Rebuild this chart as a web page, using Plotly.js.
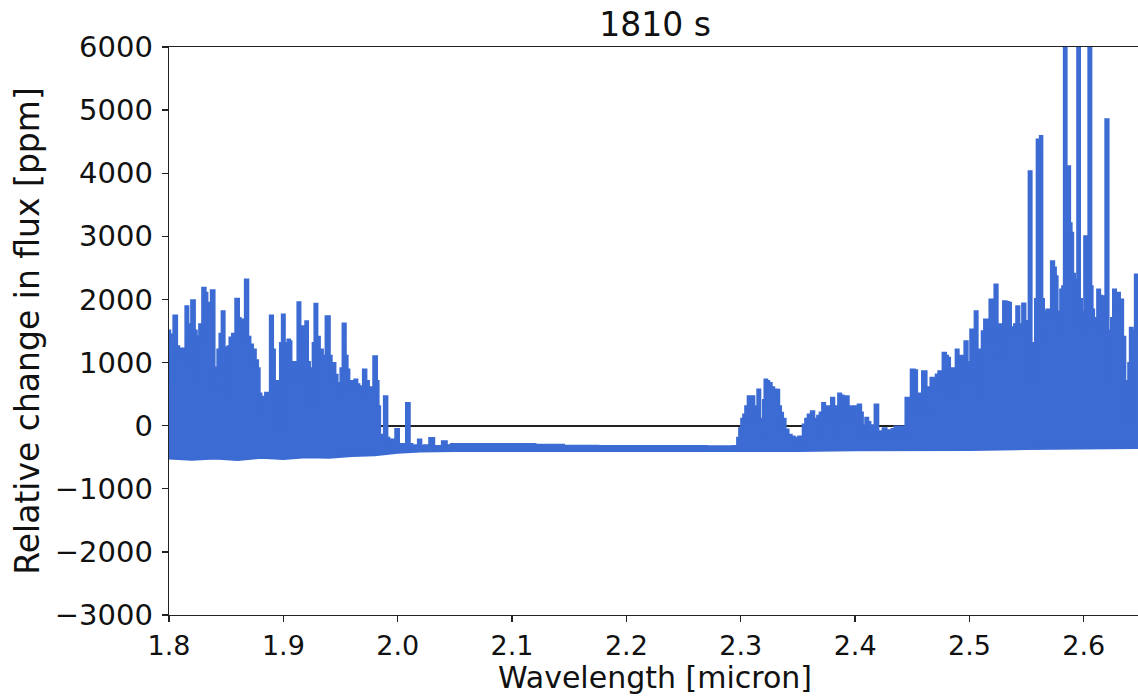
<!DOCTYPE html>
<html>
<head>
<meta charset="utf-8">
<script src="https://cdn.plot.ly/plotly-3.0.1.min.js"></script>
<style>
html,body{margin:0;padding:0;overflow:hidden;background:#fff;}
#chart{width:1141px;height:696px;}
</style>
</head>
<body>
<div id="chart"></div>
<script>
// Upper envelope of the spectrum (wavelength in micron, relative change in ppm)
const wavelength = [
1.8000,1.8013,1.8026,1.8059,1.8074,1.8096,1.8122,1.8140,1.8155,1.8175,1.8184,1.8212,1.8232,1.8245,1.8256,1.8280,
1.8309,1.8323,1.8340,1.8358,1.8382,1.8406,1.8417,1.8437,1.8454,1.8475,1.8489,1.8507,1.8524,1.8542,1.8568,1.8600,
1.8616,1.8629,1.8641,1.8656,1.8679,1.8699,1.8717,1.8743,1.8767,1.8782,1.8795,1.8813,1.8835,1.8854,1.8874,1.8898,
1.8913,1.8931,1.8950,1.8966,1.8983,1.8999,1.9018,1.9031,1.9049,1.9058,1.9075,1.9101,1.9119,1.9136,1.9154,1.9174,
1.9189,1.9203,1.9219,1.9237,1.9254,1.9267,1.9285,1.9302,1.9328,1.9355,1.9392,1.9412,1.9425,1.9442,1.9460,1.9480,
1.9495,1.9512,1.9532,1.9551,1.9564,1.9582,1.9599,1.9617,1.9634,1.9652,1.9669,1.9687,1.9713,1.9731,1.9757,1.9774,
1.9807,1.9822,1.9835,1.9849,1.9870,1.9897,1.9914,1.9932,1.9949,1.9967,1.9999,2.0015,2.0036,2.0063,2.0091,2.0111,
2.0141,2.0168,2.0194,2.0211,2.0255,2.0305,2.0325,2.0369,2.0412,2.0438,2.0500,2.0700,2.1000,2.1400,2.1500,2.2000,
2.2500,2.2900,2.2964,2.2981,2.2999,2.3017,2.3034,2.3052,2.3078,2.3107,2.3122,2.3139,2.3159,2.3174,2.3192,2.3205,
2.3218,2.3236,2.3253,2.3279,2.3297,2.3323,2.3341,2.3355,2.3376,2.3399,2.3428,2.3454,2.3480,2.3498,2.3515,2.3533,
2.3559,2.3576,2.3603,2.3631,2.3646,2.3664,2.3681,2.3707,2.3725,2.3742,2.3764,2.3781,2.3806,2.3821,2.3834,2.3847,
2.3865,2.3882,2.3908,2.3935,2.3944,2.3958,2.3979,2.3996,2.4014,2.4040,2.4057,2.4070,2.4083,2.4103,2.4118,2.4140,
2.4158,2.4191,2.4206,2.4232,2.4258,2.4284,2.4310,2.4337,2.4363,2.4389,2.4418,2.4433,2.4456,2.4476,2.4505,2.4529,
2.4546,2.4572,2.4607,2.4634,2.4651,2.4675,2.4695,2.4724,2.4739,2.4756,2.4782,2.4800,2.4817,2.4835,2.4855,2.4874,
2.4893,2.4909,2.4928,2.4948,2.4972,2.4988,2.5001,2.5021,2.5040,2.5059,2.5075,2.5088,2.5106,2.5117,2.5147,2.5167,
2.5191,2.5211,2.5234,2.5250,2.5272,2.5289,2.5307,2.5333,2.5350,2.5368,2.5385,2.5403,2.5423,2.5442,2.5455,2.5475,
2.5495,2.5512,2.5531,2.5547,2.5569,2.5586,2.5598,2.5612,2.5627,2.5639,2.5656,2.5669,2.5685,2.5704,2.5729,2.5744,
2.5759,2.5774,2.5787,2.5808,2.5822,2.5837,2.5853,2.5869,2.5883,2.5895,2.5910,2.5927,2.5940,2.5953,2.5971,2.5988,
2.6001,2.6014,2.6032,2.6056,2.6067,2.6078,2.6093,2.6111,2.6131,2.6146,2.6166,2.6181,2.6204,2.6220,2.6233,2.6251,
2.6268,2.6286,2.6303,2.6320,2.6332,2.6347,2.6370,2.6386,2.6399,2.6414,2.6430,2.6443,2.6458,2.6500
];
const fluxPeak = [
1500,1436,720,1737,1250,1214,1214,1040,1885,1600,1070,1980,1500,720,1410,1600,
2176,2100,1940,1900,2139,600,913,1200,1450,1806,1230,458,1250,1388,1450,2002,
1700,1650,1673,1500,2308,1400,1277,1200,1029,900,500,279,450,512,480,1737,
1200,700,-17,700,1300,1753,1300,1200,1357,1330,1000,775,1000,1948,1500,1568,
1300,1647,1000,358,900,1300,1922,1400,1198,1100,1726,1100,800,987,800,670,
500,900,1610,1100,881,700,600,700,723,650,616,500,881,700,564,600,
1092,700,300,-150,-250,458,-200,-250,-228,-300,-59,-300,-320,-300,353,-300,
-330,-320,-228,-330,-320,-202,-330,-330,-255,-320,-300,-300,-300,-310,-325,-330,
-330,-335,-330,-200,-50,100,168,300,458,458,200,300,564,100,-117,400,
723,700,670,600,564,560,300,195,100,-70,-150,-180,-250,-200,-180,-300,
10,100,168,220,100,-180,150,200,353,250,300,100,433,300,-180,300,
500,470,458,460,100,300,250,300,100,327,200,-180,0,116,50,-117,
0,327,-100,-96,-50,-130,-80,-60,-20,-50,-20,-150,433,300,881,871,
200,500,855,600,300,750,600,802,855,600,1146,1100,1067,900,512,900,
1198,1100,908,1100,1330,1000,723,1515,1300,1806,1200,485,1200,1488,1674,1400,
1991,1500,2229,1600,1146,1600,1964,1950,1938,1488,1550,1600,1885,1500,1600,1927,
1650,1500,4024,1300,750,2000,4527,4450,4580,2000,1357,1800,1832,1700,2598,2500,
2360,1800,1515,2150,2200,7000,3000,4104,3200,3048,2400,2308,1600,7000,2000,1463,
1800,2994,2100,7000,2200,1832,1700,1515,2150,2050,2043,1800,4849,1500,723,1700,
2150,1900,2097,1950,1991,1400,89,700,987,1542,1198,1500,2387,2387
];
// Lower edge of the spectrum (continuum floor)
const floorWavelength = [1.80,1.82,1.84,1.86,1.88,1.90,1.92,1.94,1.96,1.98,2.00,2.02,2.05,2.10,2.15,2.20,2.25,2.30,2.35,2.40,2.45,2.50,2.55,2.60,2.65];
const fluxFloor = [-520,-540,-520,-545,-510,-530,-500,-510,-480,-470,-430,-410,-400,-400,-400,-400,-400,-410,-400,-390,-390,-385,-370,-360,-355];

const xTicks = [1.8,1.9,2.0,2.1,2.2,2.3,2.4,2.5,2.6];
const xTickText = ['1.8','1.9','2.0','2.1','2.2','2.3','2.4','2.5','2.6'];
const yTicks = [-3000,-2000,-1000,0,1000,2000,3000,4000,5000,6000];
const yTickText = ['\u22123000','\u22122000','\u22121000','0','1000','2000','3000','4000','5000','6000'];
const xTitle = 'Wavelength [micron]';
const yTitle = 'Relative change in flux [ppm]';
const plotTitle = '1810 s';

const blue = '#3b6bd3';
const family = 'DejaVu Sans, sans-serif';
const tickFont = {family: family, size: 29, color: '#111'};
const xTickFont = {family: family, size: 27, color: '#111'};
const labelFont = {family: family, size: 33, color: '#111'};

const traces = [
  {x: floorWavelength, y: fluxFloor, type: 'scatter', mode: 'lines',
   line: {color: blue, width: 2}, hoverinfo: 'skip', showlegend: false},
  {x: wavelength, y: fluxPeak, type: 'scatter', mode: 'lines',
   line: {color: blue, width: 3, shape: 'hvh'}, fill: 'tonexty', fillcolor: blue,
   hoverinfo: 'skip', showlegend: false}
];

const layout = {
  width: 1141, height: 696,
  margin: {l: 169, r: 0, t: 47, b: 81},
  paper_bgcolor: '#fff', plot_bgcolor: '#fff',
  font: tickFont,
  showlegend: false,
  title: {text: plotTitle, font: labelFont, x: 0.5, xref: 'paper', y: 0.965, yref: 'container', yanchor: 'middle'},
  xaxis: {
    range: [1.8, 2.65], tickvals: xTicks, ticktext: xTickText,
    showline: true, mirror: true, linecolor: '#222', linewidth: 1.3,
    ticks: 'outside', ticklen: 6, tickwidth: 1.3, tickcolor: '#222',
    ticklabelstandoff: 0,
    showgrid: false, zeroline: false, tickfont: xTickFont
  },
  yaxis: {
    range: [-3000, 6000], tickvals: yTicks, ticktext: yTickText,
    showline: true, mirror: true, linecolor: '#222', linewidth: 1.3,
    ticks: 'outside', ticklen: 6, tickwidth: 1.3, tickcolor: '#222',
    ticklabelstandoff: 3,
    showgrid: false, zeroline: true, zerolinecolor: '#222', zerolinewidth: 2,
    tickfont: tickFont,
    title: {text: yTitle, font: labelFont, standoff: 5}
  },
  annotations: [
    {text: xTitle, xref: 'paper', yref: 'paper', x: 0.5, y: -81 / 568,
     xanchor: 'center', yanchor: 'bottom', showarrow: false, borderpad: 0,
     font: {family: family, size: 30, color: '#111'}}
  ]
};

Plotly.newPlot('chart', traces, layout, {staticPlot: true, displayModeBar: false});
</script>
</body>
</html>
